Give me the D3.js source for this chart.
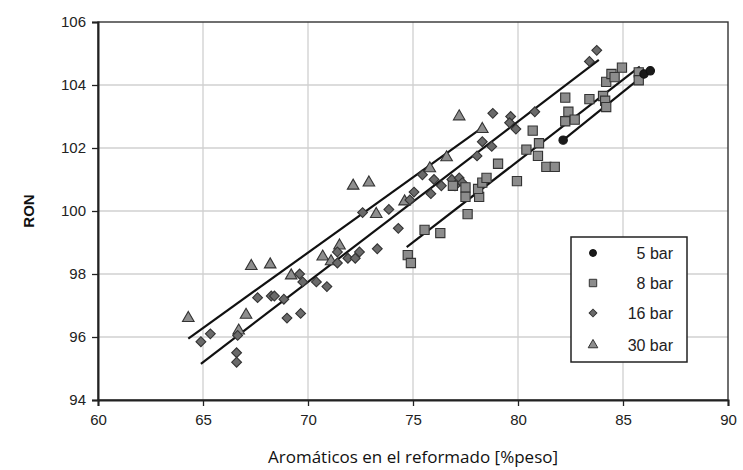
<!DOCTYPE html>
<html>
<head>
<meta charset="utf-8">
<script src="https://cdn.jsdelivr.net/npm/d3@7"></script>
<style>
  html, body { margin: 0; padding: 0; background: #fff; }
  svg { display: block; }
  .num { font-family: "Liberation Sans", Arimo, Arial, sans-serif; }
</style>
</head>
<body>
<div id="chart"></div>
<script>
// x ticks / y ticks
var xTicks = [60, 65, 70, 75, 80, 85, 90];
var yTicks = [94, 96, 98, 100, 102, 104, 106];

// series points [aromaticos, RON]
var bar5 = [[82.15, 102.25], [86.0, 104.35], [86.3, 104.45]];
var bar8 = [
  [74.75, 98.6], [74.9, 98.35], [75.55, 99.4], [76.3, 99.3], [77.6, 99.9],
  [76.9, 100.8], [77.5, 100.75], [77.5, 100.45], [78.15, 100.45], [78.1, 100.7],
  [78.3, 100.9], [78.5, 101.05], [79.05, 101.5], [79.95, 100.95], [80.4, 101.95],
  [80.7, 102.55], [80.95, 101.75], [81.0, 102.15], [81.35, 101.4], [81.75, 101.4],
  [82.25, 103.6], [82.4, 103.15], [82.25, 102.85], [82.7, 102.9], [83.4, 103.55],
  [84.05, 103.65], [84.15, 103.5], [84.2, 103.3], [84.2, 104.1], [84.45, 104.35],
  [84.6, 104.25], [84.95, 104.55], [85.75, 104.4], [85.75, 104.15]
];
var bar16 = [
  [64.9, 95.85], [65.35, 96.1], [66.65, 96.05], [66.6, 95.5], [66.6, 95.2],
  [67.6, 97.25], [68.25, 97.3], [68.4, 97.3], [68.85, 97.2], [69.0, 96.6],
  [69.65, 96.75], [69.6, 98.0], [69.75, 97.75], [70.4, 97.75], [70.9, 97.6],
  [71.4, 98.35], [71.4, 98.7], [71.9, 98.5], [72.25, 98.5], [72.45, 98.7],
  [73.3, 98.8], [72.6, 99.95], [73.85, 100.05], [74.3, 99.45], [74.85, 100.35],
  [75.05, 100.6], [75.45, 101.15], [75.85, 100.55], [76.0, 101.0], [76.35, 100.8],
  [76.85, 101.0], [77.2, 101.05], [77.35, 100.9], [77.0, 100.8], [78.05, 101.75],
  [78.3, 102.2], [78.75, 102.05], [78.8, 103.1], [79.65, 103.0], [79.6, 102.8],
  [79.9, 102.6], [80.8, 103.15], [83.4, 104.75], [83.75, 105.1]
];
var bar30 = [
  [64.3, 96.6], [66.7, 96.2], [67.05, 96.7], [67.3, 98.25], [68.2, 98.3],
  [69.2, 97.95], [70.7, 98.55], [71.1, 98.4], [71.5, 98.9], [72.15, 100.8],
  [72.9, 100.9], [73.25, 99.9], [74.6, 100.3], [75.8, 101.35], [76.6, 101.7],
  [77.2, 103.0], [78.3, 102.6]
];

// fitted lines [start, end]
var fit5 = [[82.15, 102.25], [86.3, 104.48]];
var fit8 = [[74.7, 98.85], [85.8, 104.58]];
var fit16 = [[64.9, 95.15], [83.85, 104.8]];
var fit30 = [[64.3, 95.95], [78.3, 102.65]];

var legendLabels = ['5 bar', '8 bar', '16 bar', '30 bar'];

var width = 743, height = 470;
var margin = { top: 22, right: 15, bottom: 70, left: 98 };
var innerW = width - margin.left - margin.right;
var innerH = height - margin.top - margin.bottom;

var svg = d3.select('#chart').append('svg')
  .attr('width', width)
  .attr('height', height);

var g = svg.append('g')
  .attr('transform', 'translate(' + margin.left + ',' + margin.top + ')');

var x = d3.scaleLinear().domain([60, 90]).range([0, innerW]);
var y = d3.scaleLinear().domain([94, 106]).range([innerH, 0]);

// grid
g.append('g').selectAll('line')
  .data(xTicks.slice(1, -1))
  .join('line')
  .attr('x1', function (d) { return x(d); })
  .attr('x2', function (d) { return x(d); })
  .attr('y1', 0).attr('y2', innerH)
  .attr('stroke', '#d0d0d0').attr('stroke-width', 1.3);

g.append('g').selectAll('line')
  .data(yTicks.slice(1, -1))
  .join('line')
  .attr('y1', function (d) { return y(d); })
  .attr('y2', function (d) { return y(d); })
  .attr('x1', 0).attr('x2', innerW)
  .attr('stroke', '#d0d0d0').attr('stroke-width', 1.3);

// frame
g.append('rect')
  .attr('width', innerW).attr('height', innerH)
  .attr('fill', 'none').attr('stroke', '#333').attr('stroke-width', 1.4);

// axes
var xAxis = g.append('g')
  .attr('transform', 'translate(0,' + innerH + ')')
  .call(d3.axisBottom(x).tickValues(xTicks).tickSize(6).tickPadding(8));
var yAxis = g.append('g')
  .call(d3.axisLeft(y).tickValues(yTicks).tickSize(6).tickPadding(6));

[xAxis, yAxis].forEach(function (ax) {
  ax.attr('font-family', null).attr('font-size', null);
  ax.select('.domain').attr('stroke', '#222').attr('stroke-width', 2);
  ax.selectAll('.tick line').attr('stroke', '#222').attr('stroke-width', 1.3);
  ax.selectAll('.tick text')
    .attr('class', 'num')
    .attr('fill', '#222')
    .style('font-size', '15px');
});

// fitted lines
var lineGen = d3.line()
  .x(function (d) { return x(d[0]); })
  .y(function (d) { return y(d[1]); });

g.append('g').selectAll('path')
  .data([fit30, fit16, fit8, fit5])
  .join('path')
  .attr('d', lineGen)
  .attr('fill', 'none')
  .attr('stroke', '#111')
  .attr('stroke-width', 2.2);

// markers
function shapePath(shape, size) {
  if (shape === 'diamond') return d3.symbol().type(d3.symbolSquare).size(size)();
  var t = { circle: d3.symbolCircle, square: d3.symbolSquare, triangle: d3.symbolTriangle }[shape];
  return d3.symbol().type(t).size(size)();
}
function shapeRot(shape) { return shape === 'diamond' ? ' rotate(45)' : ''; }

var seriesDefs = [
  { data: bar30, shape: 'triangle', size: 58, fill: '#8e8e8e', stroke: '#333' },
  { data: bar16, shape: 'diamond',  size: 48, fill: '#6a6a6a', stroke: '#333' },
  { data: bar8,  shape: 'square',   size: 85, fill: '#8c8c8c', stroke: '#333' },
  { data: bar5,  shape: 'circle',   size: 55, fill: '#1a1a1a', stroke: '#111' }
];

seriesDefs.forEach(function (s) {
  g.append('g').selectAll('path')
    .data(s.data)
    .join('path')
    .attr('d', shapePath(s.shape, s.size))
    .attr('transform', function (d) {
      return 'translate(' + x(d[0]) + ',' + y(d[1]) + ')' + shapeRot(s.shape);
    })
    .attr('fill', s.fill)
    .attr('stroke', s.stroke)
    .attr('stroke-width', 1.1);
});

// legend
var legend = svg.append('g').attr('transform', 'translate(571,237)');
legend.append('rect')
  .attr('width', 116).attr('height', 125)
  .attr('fill', '#fff').attr('stroke', '#222').attr('stroke-width', 1.5);

var legendShapes = [
  { shape: 'circle',   size: 38, fill: '#1a1a1a', stroke: '#111' },
  { shape: 'square',   size: 55, fill: '#8c8c8c', stroke: '#333' },
  { shape: 'diamond',  size: 30, fill: '#6a6a6a', stroke: '#333' },
  { shape: 'triangle', size: 40, fill: '#8e8e8e', stroke: '#333' }
];
var rowY = [16, 46, 76, 108];

legendLabels.forEach(function (lab, i) {
  var ls = legendShapes[i];
  legend.append('path')
    .attr('d', shapePath(ls.shape, ls.size))
    .attr('transform', 'translate(22,' + rowY[i] + ')' + shapeRot(ls.shape))
    .attr('fill', ls.fill).attr('stroke', ls.stroke).attr('stroke-width', 1);
  legend.append('text')
    .attr('class', 'num')
    .attr('x', 102).attr('y', rowY[i] + 6)
    .attr('text-anchor', 'end')
    .attr('fill', '#222')
    .style('font-size', '16px')
    .text(lab);
});

// axis titles
svg.append('text')
  .attr('class', 'num')
  .attr('transform', 'translate(34,' + (margin.top + innerH / 2) + ') rotate(-90)')
  .attr('text-anchor', 'middle')
  .attr('fill', '#111')
  .style('font-size', '15px')
  .style('font-weight', 'bold')
  .text('RON');

svg.append('text')
  .attr('x', 413).attr('y', 463)
  .attr('text-anchor', 'middle')
  .attr('fill', '#111')
  .style('font-family', '"Open Sans", Lato, sans-serif')
  .style('font-size', '17px')
  .text('Aromáticos en el reformado [%peso]');
</script>
</body>
</html>
